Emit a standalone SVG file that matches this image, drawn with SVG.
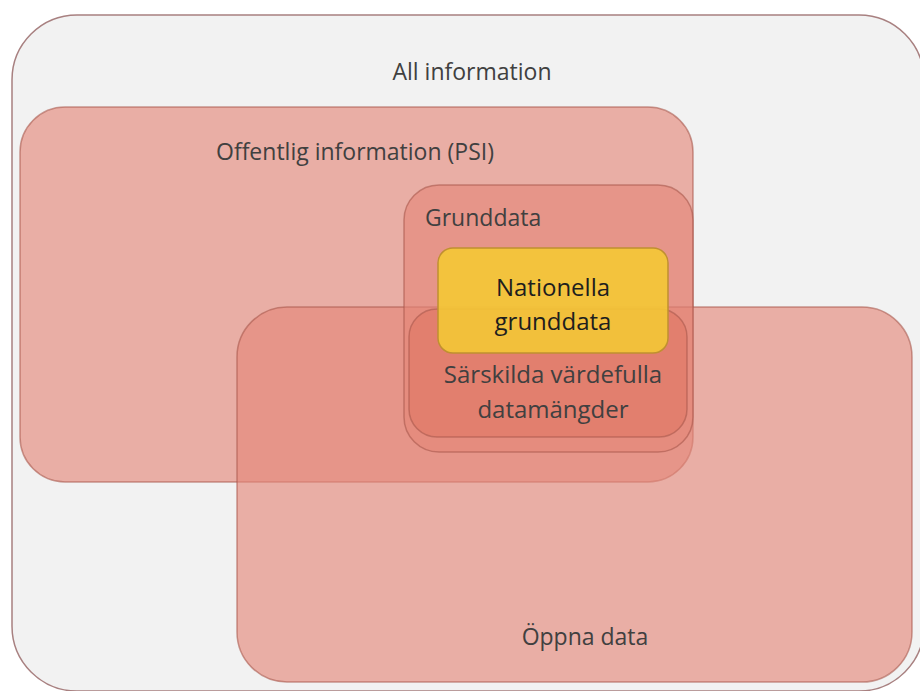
<svg xmlns="http://www.w3.org/2000/svg" width="920" height="691" viewBox="0 0 920 691">
<style>
.set{fill:#e48778;fill-opacity:0.63;stroke:#a8584c;stroke-opacity:0.6;stroke-width:1.5}
.sv{fill:#e07560;fill-opacity:0.55}
.lbl{font-family:"Open Sans","Liberation Sans",sans-serif;font-size:23px;fill:#404040}
.big{font-size:24px}
.dk{fill:#1e1e1e}
</style>
<rect width="920" height="691" fill="#ffffff"/>
<g id="all-information">
<rect x="12" y="15" width="912" height="676" rx="65" fill="#f2f2f2" stroke="#a88080" stroke-width="1.5"/>
<text class="lbl" x="472" y="80" text-anchor="middle">All information</text>
</g>
<g id="offentlig">
<rect class="set" x="20" y="107" width="673" height="375" rx="45"/>
<text class="lbl" x="355" y="160" text-anchor="middle">Offentlig information (PSI)</text>
</g>
<g id="oppna-data">
<rect class="set" x="237" y="307" width="675" height="375" rx="50"/>
<text class="lbl" x="585" y="645" text-anchor="middle">Öppna data</text>
</g>
<g id="grunddata">
<rect class="set" x="404" y="185" width="289" height="267" rx="35"/>
<text class="lbl" x="425" y="226">Grunddata</text>
</g>
<g id="sarskilda">
<rect class="set sv" x="409" y="309" width="278" height="128" rx="28"/>
<text class="lbl big" x="553" y="383" text-anchor="middle">Särskilda värdefulla</text>
<text class="lbl big" x="553" y="418" text-anchor="middle">datamängder</text>
</g>
<g id="nationella-grunddata">
<rect x="438" y="248" width="230" height="105" rx="15" fill="#f4c835" fill-opacity="0.9" stroke="#c09030" stroke-width="1.5"/>
<text class="lbl big dk" x="553" y="296" text-anchor="middle">Nationella</text>
<text class="lbl big dk" x="553" y="330" text-anchor="middle">grunddata</text>
</g>
<g id="connectors"/>
</svg>
